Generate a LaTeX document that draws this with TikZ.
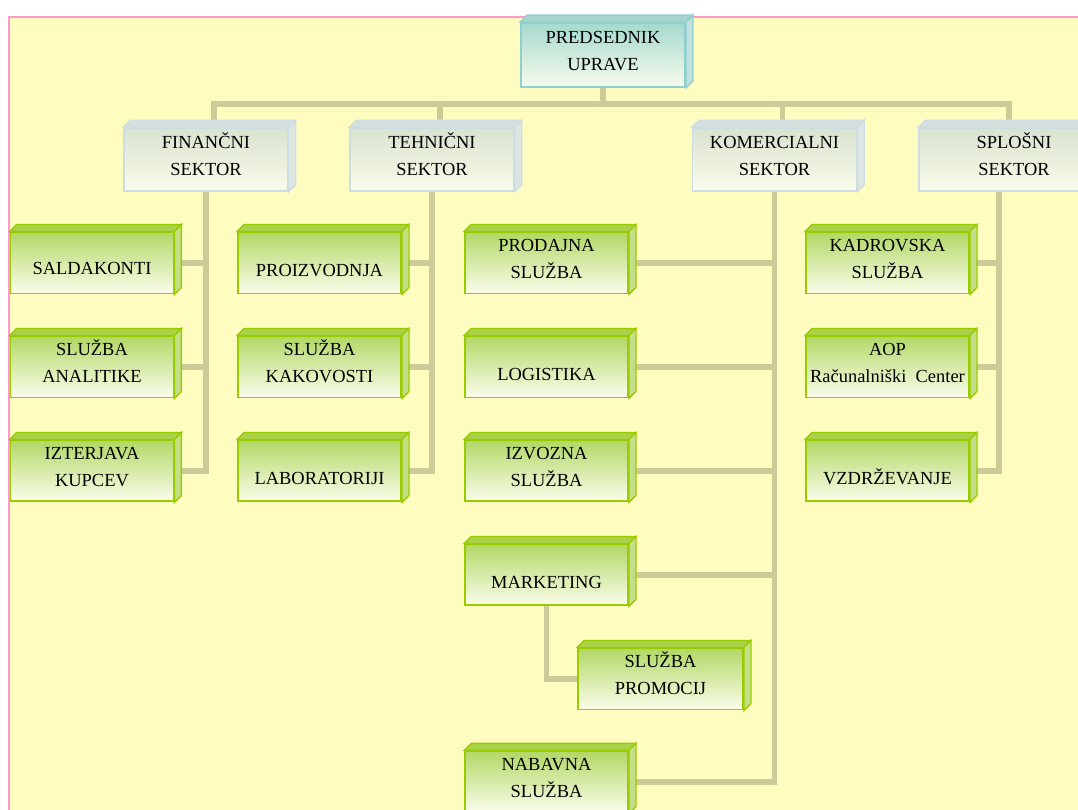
\documentclass[tikz,border=0pt]{standalone}
\usepackage{fontspec}
\setmainfont{Liberation Serif}
\usetikzlibrary{backgrounds}
\definecolor{bgyellow}{HTML}{FFFCBF}
\definecolor{pinkline}{HTML}{FF99CC}
\definecolor{connline}{HTML}{CCCC99}
\definecolor{grnline}{HTML}{99CC00}
\definecolor{grnhi}{HTML}{B3D867}
\definecolor{grnlo}{HTML}{FBFDEB}
\definecolor{grntop}{HTML}{A9D24A}
\definecolor{grnside}{HTML}{C4DE8A}
\definecolor{secline}{HTML}{CCDDE6}
\definecolor{sechi}{HTML}{D9E3CF}
\definecolor{seclo}{HTML}{FAFCEA}
\definecolor{sectop}{HTML}{D5E0DD}
\definecolor{secside}{HTML}{DDE5E2}
\definecolor{headline}{HTML}{8FCFCF}
\definecolor{headhi}{HTML}{A6D9CF}
\definecolor{headlo}{HTML}{F6FBEB}
\definecolor{headtop}{HTML}{A8D4D0}
\definecolor{headside}{HTML}{BFE0DC}
\begin{document}
\begin{tikzpicture}[
x=0.02cm, y=-0.02cm,
node distance=2.08cm,
every node/.style={font=\fontsize{10.5}{15.3}\selectfont, align=center, text=black, inner sep=0pt, text height=22.3pt, text depth=4.6pt},
unit/.style={draw=grnline, line width=1.1pt, top color=grnhi, bottom color=grnlo, minimum width=3.26cm, minimum height=1.22cm},
sector/.style={draw=secline, line width=0.9pt, top color=sechi, bottom color=seclo, minimum width=3.28cm, minimum height=1.26cm},
head/.style={draw=headline, line width=1.1pt, top color=headhi, bottom color=headlo, minimum width=3.28cm, minimum height=1.28cm},
single/.style={text height=15.9pt, text depth=0pt},
conn/.style={draw=connline, line width=3.4pt}
]
\useasboundingbox (0,0) rectangle (1078,810);
\clip (0,0) rectangle (1078,810);

\node[head] (pred) at (603,55) {PREDSEDNIK\\UPRAVE};

\node[sector] (fin) at (206,159.5) {FINANČNI\\SEKTOR};
\node[sector] (teh) at (432,159.5) {TEHNIČNI\\SEKTOR};
\node[sector] (kom) at (774.5,159.5) {KOMERCIALNI\\SEKTOR};
\node[sector, minimum width=3.8cm] (spl) at (1014,159.5) {SPLOŠNI\\SEKTOR};

\node[unit, single, text height=13pt] (sal) at (92,263) {SALDAKONTI};
\node[unit] (ana) [below of=sal] {SLUŽBA\\ANALITIKE};
\node[unit] (izt) [below of=ana] {IZTERJAVA\\KUPCEV};

\node[unit, single] (pro) at (319.5,263) {PROIZVODNJA};
\node[unit] (kak) [below of=pro] {SLUŽBA\\KAKOVOSTI};
\node[unit, single] (lab) [below of=kak] {LABORATORIJI};

\node[unit] (prod) at (546.5,263) {PRODAJNA\\SLUŽBA};
\node[unit, single] (logi) [below of=prod] {LOGISTIKA};
\node[unit] (izv) [below of=logi] {IZVOZNA\\SLUŽBA};
\node[unit, single] (mar) [below of=izv] {MARKETING};
\node[unit, minimum width=3.3cm] (prom) at (660.5,679) {SLUŽBA\\PROMOCIJ};
\node[unit] (nab) [below of=mar, node distance=4.14cm] {NABAVNA\\SLUŽBA};

\node[unit] (kad) at (887.5,263) {KADROVSKA\\SLUŽBA};
\node[unit] (aop) [below of=kad] {AOP\\Računalniški\ \ Center};
\node[unit, single] (vzd) [below of=aop] {VZDRŽEVANJE};

\foreach \n in {sal,ana,izt,pro,kak,lab,prod,logi,izv,mar,prom,nab,kad,aop,vzd} {
  \filldraw[draw=grnline, line width=0.8pt, fill=grntop] (\n.north west) -- ++(7,-7) -- ([shift={(7,-7)}]\n.north east) -- (\n.north east) -- cycle;
  \filldraw[draw=grnline, line width=0.8pt, fill=grnside] (\n.north east) -- ++(7,-7) -- ([shift={(7,-7)}]\n.south east) -- (\n.south east) -- cycle;
}
\foreach \n in {fin,teh,kom,spl} {
  \filldraw[draw=secline, line width=0.7pt, fill=sectop] (\n.north west) -- ++(7,-7) -- ([shift={(7,-7)}]\n.north east) -- (\n.north east) -- cycle;
  \filldraw[draw=secline, line width=0.7pt, fill=secside] (\n.north east) -- ++(7,-7) -- ([shift={(7,-7)}]\n.south east) -- (\n.south east) -- cycle;
}
\filldraw[draw=headline, line width=0.8pt, fill=headtop] (pred.north west) -- ++(7,-7) -- ([shift={(7,-7)}]pred.north east) -- (pred.north east) -- cycle;
\filldraw[draw=headline, line width=0.8pt, fill=headside] (pred.north east) -- ++(7,-7) -- ([shift={(7,-7)}]pred.south east) -- (pred.south east) -- cycle;

\coordinate (bus) at (603,104);
\coordinate (splbot) at ([xshift=-0.3cm]spl.south);

\begin{scope}[on background layer]
\fill[white] (0,0) rectangle (1078,810);
\filldraw[draw=pinkline, line width=1.2pt, fill=bgyellow] (9,17) rectangle (1100,830);

\draw[conn] (pred.south) -- (bus);
\draw[conn] ([xshift=0.16cm]fin.north) |- (bus) -| ([xshift=-0.1cm]spl.north);
\draw[conn] ([xshift=0.16cm]teh.north) -- ([xshift=0.16cm]teh.north |- bus);
\draw[conn] ([xshift=0.16cm]kom.north) -- ([xshift=0.16cm]kom.north |- bus);

\draw[conn] (fin.south) |- (izt.east);
\draw[conn] (sal.east) -- (sal.east -| fin.south);
\draw[conn] (ana.east) -- (ana.east -| fin.south);

\draw[conn] (teh.south) |- (lab.east);
\draw[conn] (pro.east) -- (pro.east -| teh.south);
\draw[conn] (kak.east) -- (kak.east -| teh.south);

\draw[conn] (kom.south) |- (nab.east);
\draw[conn] (prod.east) -- (prod.east -| kom.south);
\draw[conn] (logi.east) -- (logi.east -| kom.south);
\draw[conn] (izv.east) -- (izv.east -| kom.south);
\draw[conn] (mar.east) -- (mar.east -| kom.south);
\draw[conn] (mar.south) |- (prom.west);

\draw[conn] (splbot) |- (vzd.east);
\draw[conn] (kad.east) -- (kad.east -| splbot);
\draw[conn] (aop.east) -- (aop.east -| splbot);
\end{scope}

\end{tikzpicture}
\end{document}
